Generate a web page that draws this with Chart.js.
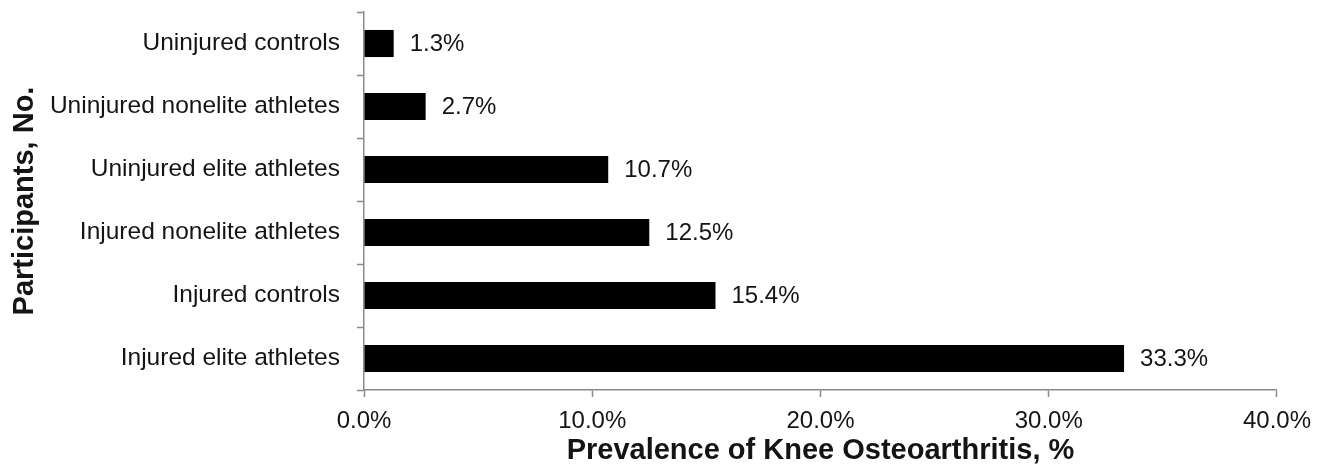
<!DOCTYPE html>
<html>
<head>
<meta charset="utf-8">
<script src="https://cdn.jsdelivr.net/npm/chart.js@4.4.1/dist/chart.umd.min.js"></script>
<style>
  html, body { margin: 0; padding: 0; background: #fff; }
  #wrap { width: 1321px; height: 475px; }
</style>
</head>
<body>
<div id="wrap"><canvas id="oaChart" width="1321" height="475"></canvas></div>
<script>
const groups = [
  "Uninjured controls",
  "Uninjured nonelite athletes",
  "Uninjured elite athletes",
  "Injured nonelite athletes",
  "Injured controls",
  "Injured elite athletes"
];
const prevalence = [1.3, 2.7, 10.7, 12.5, 15.4, 33.3];
const xTicks = [0, 10, 20, 30, 40];

const axisGray = "#8a8a8a";
const ink = "#141414";
const fontFamily = "'Liberation Sans', Arial, sans-serif";

/* value labels at the end of each bar */
const barLabels = {
  id: "barLabels",
  afterDatasetsDraw(chart) {
    const { ctx } = chart;
    const meta = chart.getDatasetMeta(0);
    ctx.save();
    ctx.font = "24px " + fontFamily;
    ctx.fillStyle = ink;
    ctx.textAlign = "left";
    ctx.textBaseline = "middle";
    meta.data.forEach((bar, i) => {
      ctx.fillText(prevalence[i].toFixed(1) + "%", bar.x + 16, bar.y + 1);
    });
    ctx.restore();
  }
};

new Chart(document.getElementById("oaChart"), {
  type: "bar",
  data: {
    labels: groups,
    datasets: [{
      data: prevalence,
      backgroundColor: "#000",
      categoryPercentage: 1,
      barPercentage: 0.43
    }]
  },
  options: {
    indexAxis: "y",
    responsive: false,
    animation: false,
    layout: { padding: { top: 12, right: 43, left: 0, bottom: 0 } },
    plugins: {
      legend: { display: false },
      tooltip: { enabled: false }
    },
    scales: {
      x: {
        min: 0,
        max: 40,
        afterFit: s => { s.height = 85; },
        afterBuildTicks: s => { s.ticks = xTicks.map(v => ({ value: v })); },
        grid: { drawOnChartArea: false, tickLength: 7, tickColor: axisGray, tickWidth: 1.5 },
        border: { color: axisGray, width: 1.5 },
        ticks: {
          color: ink,
          padding: 10,
          font: { family: fontFamily, size: 24 },
          callback: v => v.toFixed(1) + "%"
        },
        title: {
          display: true,
          text: "Prevalence of Knee Osteoarthritis, %",
          color: ink,
          font: { family: fontFamily, size: 29, weight: "bold" },
          padding: { top: 0, bottom: 7 }
        }
      },
      y: {
        // keep the tick padding from pushing the plot area down
        afterFit: s => { s.width = 364; s.paddingTop = 0; s.paddingBottom = 0; },
        grid: { drawOnChartArea: false, tickLength: 7, tickColor: axisGray, tickWidth: 1.5 },
        border: { color: axisGray, width: 1.5 },
        ticks: {
          color: ink,
          padding: 17,
          font: { family: fontFamily, size: 24.5 }
        },
        title: {
          display: true,
          text: "Participants, No.",
          color: ink,
          font: { family: fontFamily, size: 29, weight: "bold" },
          padding: { top: 8, bottom: 0 }
        }
      }
    }
  },
  plugins: [barLabels]
});
</script>
</body>
</html>
